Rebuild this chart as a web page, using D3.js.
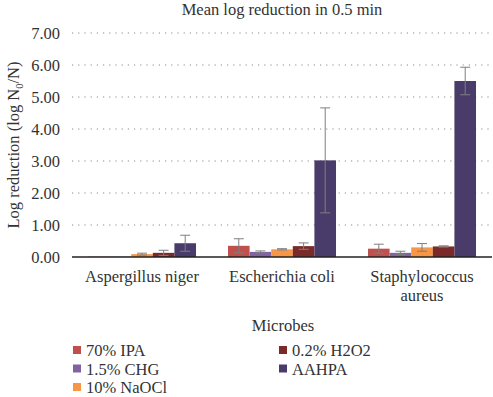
<!DOCTYPE html>
<html>
<head>
<meta charset="utf-8">
<script src="https://cdn.jsdelivr.net/npm/d3@7"></script>
<style>
  body { margin: 0; background: #fff; }
  svg text { font-family: "Liberation Serif", "Times New Roman", serif !important; fill: #333; }
</style>
</head>
<body>
<div id="chart"></div>
<script>
const microbes = ["Aspergillus niger", "Escherichia coli", "Staphylococcus aureus"]
const agents = ["70% IPA", "1.5% CHG", "10% NaOCl", "0.2% H2O2", "AAHPA"]
const colors = ["#c0504d", "#8064a2", "#f79646", "#7b2a2a", "#4a3c6a"]

// mean per agent, in microbe order
const ipa   = [0.01, 0.35, 0.26]
const chg   = [0.01, 0.16, 0.13]
const naocl = [0.09, 0.24, 0.30]
const h2o2  = [0.13, 0.34, 0.33]
const aahpa = [0.43, 3.02, 5.50]

// error (+/-)
const ipaErr   = [0.00, 0.22, 0.14]
const chgErr   = [0.00, 0.03, 0.05]
const naoclErr = [0.03, 0.02, 0.12]
const h2o2Err  = [0.08, 0.10, 0.02]
const aahpaErr = [0.25, 1.64, 0.43]

const yTicks = [0, 1, 2, 3, 4, 5, 6, 7]

const means = [ipa, chg, naocl, h2o2, aahpa]
const errs = [ipaErr, chgErr, naoclErr, h2o2Err, aahpaErr]

const data = []
microbes.forEach((m, i) => {
    agents.forEach((a, j) => {
        data.push({ microbe: m, agent: a, value: means[j][i], err: errs[j][i] })
    })
})

const W = 493, H = 397
const MARGIN = { TOP: 33, LEFT: 72, RIGHT: 1, BOTTOM: 140 }
const FS = 16.5

const svg = d3.select("#chart").append("svg")
    .attr("width", W)
    .attr("height", H)
    .attr("font-family", "Liberation Serif, serif")

const x0 = d3.scaleBand()
    .domain(microbes)
    .range([MARGIN.LEFT, W - MARGIN.RIGHT])

const x1 = d3.scaleBand()
    .domain(agents)
    .range([0, x0.bandwidth()])
    .paddingOuter(0.74)

const y = d3.scaleLinear()
    .domain([0, 7])
    .range([H - MARGIN.BOTTOM, MARGIN.TOP])

const color = d3.scaleOrdinal().domain(agents).range(colors)

// title
svg.append("text")
    .attr("x", 282).attr("y", 15)
    .attr("text-anchor", "middle")
    .attr("font-size", FS)
    .text("Mean log reduction in 0.5 min")

// gridlines
svg.append("g").selectAll("line")
    .data(yTicks.filter(d => d > 0))
    .join("line")
    .attr("x1", MARGIN.LEFT).attr("x2", W - MARGIN.RIGHT)
    .attr("y1", d => y(d)).attr("y2", d => y(d))
    .attr("stroke", "#8a8a8a")
    .attr("stroke-width", 1.2)
    .attr("stroke-dasharray", "1.2,5")

// y axis labels
const yAxis = d3.axisLeft(y)
    .tickValues(yTicks)
    .tickFormat(d3.format(".2f"))
    .tickSize(0)
    .tickPadding(12)

svg.append("g")
    .attr("transform", `translate(${MARGIN.LEFT}, 0)`)
    .call(yAxis)
    .call(g => g.select(".domain").remove())
    .attr("font-family", null)
    .attr("font-size", null)
    .selectAll("text")
    .attr("font-size", FS)
    .attr("fill", "#333")

// bars
const groups = svg.append("g").selectAll("g")
    .data(microbes)
    .join("g")
    .attr("transform", d => `translate(${x0(d)}, 0)`)

groups.selectAll("rect")
    .data(m => data.filter(d => d.microbe === m))
    .join("rect")
    .attr("x", d => x1(d.agent))
    .attr("width", x1.bandwidth())
    .attr("y", d => y(d.value))
    .attr("height", d => y(0) - y(d.value))
    .attr("fill", d => color(d.agent))

// error bars
const eb = groups.selectAll(".err")
    .data(m => data.filter(d => d.microbe === m && d.err > 0))
    .join("g")
    .attr("class", "err")
    .attr("stroke", "#7f7f7f")
    .attr("stroke-width", 1)

const cx = d => x1(d.agent) + x1.bandwidth() / 2
eb.append("line")
    .attr("x1", cx).attr("x2", cx)
    .attr("y1", d => y(d.value + d.err))
    .attr("y2", d => y(Math.max(0, d.value - d.err)))
eb.append("line")
    .attr("x1", d => cx(d) - 5).attr("x2", d => cx(d) + 5)
    .attr("y1", d => y(d.value + d.err)).attr("y2", d => y(d.value + d.err))
eb.append("line")
    .attr("x1", d => cx(d) - 5).attr("x2", d => cx(d) + 5)
    .attr("y1", d => y(Math.max(0, d.value - d.err))).attr("y2", d => y(Math.max(0, d.value - d.err)))

// baseline
svg.append("line")
    .attr("x1", MARGIN.LEFT).attr("x2", W - MARGIN.RIGHT)
    .attr("y1", y(0)).attr("y2", y(0))
    .attr("stroke", "#222")
    .attr("stroke-width", 1.3)

// category labels
const xl = svg.append("g").selectAll("text")
    .data(microbes)
    .join("text")
    .attr("x", d => x0(d) + x0.bandwidth() / 2)
    .attr("y", 282)
    .attr("text-anchor", "middle")
    .attr("font-size", FS)

xl.each(function (d) {
    const t = d3.select(this)
    const words = d === "Staphylococcus aureus" ? ["Staphylococcus", "aureus"] : [d]
    words.forEach((w, i) => {
        t.append("tspan")
            .attr("x", x0(d) + x0.bandwidth() / 2)
            .attr("dy", i === 0 ? 0 : 19)
            .text(w)
    })
})

// axis titles
svg.append("text")
    .attr("x", 283).attr("y", 331)
    .attr("text-anchor", "middle")
    .attr("font-size", FS)
    .text("Microbes")

const yt = svg.append("text")
    .attr("transform", `translate(19, ${y(3.5)}) rotate(-90)`)
    .attr("text-anchor", "middle")
    .attr("font-size", FS)
yt.append("tspan").text("Log reduction (log N")
yt.append("tspan").attr("font-size", 10.5).attr("dy", 4).text("0")
yt.append("tspan").attr("dy", -4).text("/N)")

// legend
const legendPos = [[73, 356], [73, 374.5], [73, 393], [279, 356], [279, 374.5]]
const legend = svg.append("g").selectAll("g")
    .data(agents)
    .join("g")
    .attr("transform", (d, i) => `translate(${legendPos[i][0]}, ${legendPos[i][1]})`)

legend.append("rect")
    .attr("x", 0).attr("y", -10)
    .attr("width", 8).attr("height", 8)
    .attr("fill", d => color(d))

legend.append("text")
    .attr("x", 13).attr("y", 0)
    .attr("font-size", FS)
    .text(d => d)
</script>
</body>
</html>
